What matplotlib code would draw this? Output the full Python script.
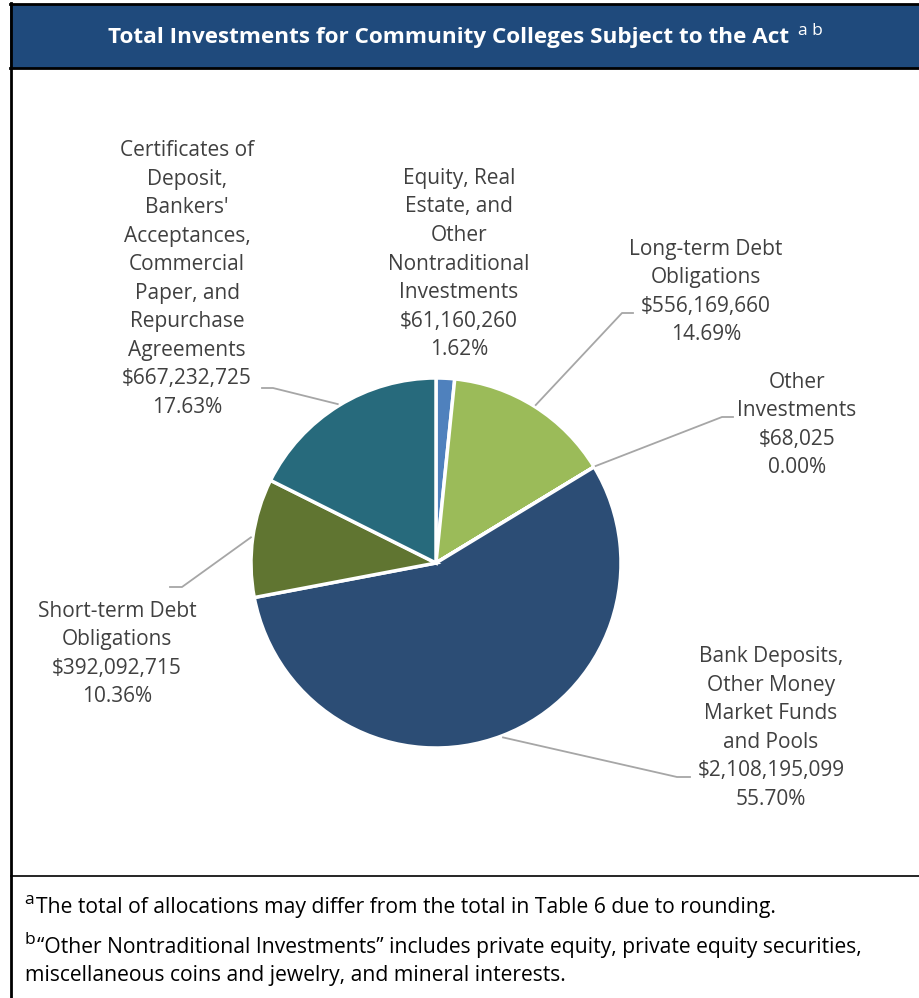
import matplotlib
matplotlib.use("Agg")
import matplotlib.pyplot as plt
from matplotlib.patches import Rectangle
from matplotlib.lines import Line2D
import numpy as np

plt.rcParams['font.family'] = ['Open Sans', 'DejaVu Sans']

# ---- data ----
categories = [
    "Equity, Real\nEstate, and\nOther\nNontraditional\nInvestments",
    "Long-term Debt\nObligations",
    "Other\nInvestments",
    "Bank Deposits,\nOther Money\nMarket Funds\nand Pools",
    "Short-term Debt\nObligations",
    "Certificates of\nDeposit,\nBankers'\nAcceptances,\nCommercial\nPaper, and\nRepurchase\nAgreements",
]
values = [61160260, 556169660, 68025, 2108195099, 392092715, 667232725]
colors = ["#4f81bd", "#9bbb59", "#8064a2", "#2c4d75", "#607531", "#276a7c"]

title = "Total Investments for Community Colleges Subject to the Act"
footnote_a = "The total of allocations may differ from the total in Table 6 due to rounding."
footnote_b1 = "\u201cOther Nontraditional Investments\u201d includes private equity, private equity securities,"
footnote_b2 = "miscellaneous coins and jewelry, and mineral interests."

# ---- layout (pixels) ----
W, H = 919, 998
CX, CY, R = 436, 563, 185

label_pos = [(459, 264), (706, 292), (797, 425), (771, 728), (117, 654), (187, 279)]
elbow_pos = [None, (622, 313), (722, 417), (677, 777), (182, 587), (273, 388)]
end_pos = [None, (633, 313), (733, 417), (690, 777), (170, 587), (262, 388)]

fig = plt.figure(figsize=(W / 100, H / 100), dpi=100)
ax = fig.add_axes([0, 0, 1, 1])
ax.axis('off')


def P(px, py):
    return ((px - CX) / R, (CY - py) / R)


# frame
ax.add_patch(Rectangle(P(10, 68), (W - 10) / R, 64 / R, facecolor="#1f4a7c",
                       edgecolor="none", zorder=1))
ax.add_line(Line2D(*zip(P(10, 4), P(W, 4)), color="black", lw=2, zorder=2))
ax.add_line(Line2D(*zip(P(10, 68), P(W, 68)), color="black", lw=2, zorder=2))
ax.add_line(Line2D(*zip(P(11, 3), P(11, H)), color="black", lw=2, zorder=2))
ax.add_line(Line2D(*zip(P(11, 876), P(W, 876)), color="black", lw=1.2, zorder=2))

ax.text(*P(449, 38), title, color="white", fontsize=16.2, fontweight="bold",
        ha="center", va="center", zorder=3)
ax.text(*P(798, 31), "a b", color="white", fontsize=12.5, ha="left", va="center", zorder=3)

# pie
total = sum(values)
wedges, _ = ax.pie(values, colors=colors, startangle=90, counterclock=False,
                   radius=1, center=(0, 0),
                   wedgeprops=dict(edgecolor="white", linewidth=2.5))
ax.set_xlim(-CX / R, (W - CX) / R)
ax.set_ylim(-(H - CY) / R, CY / R)
ax.set_aspect('equal')

txt_color = "#404040"
for i, (cat, v) in enumerate(zip(categories, values)):
    pct = v / total * 100
    label = f"{cat}\n${v:,.0f}\n{pct:.2f}%"
    lx, ly = P(*label_pos[i])
    ax.text(lx, ly, label, ha="center", va="center", fontsize=15,
            color=txt_color, linespacing=1.47, zorder=4)
    if elbow_pos[i] is not None:
        w = wedges[i]
        if v / total < 0.001:
            ang = np.deg2rad(w.theta1)
        else:
            ang = np.deg2rad((w.theta1 + w.theta2) / 2)
        ex, ey = 1.01 * np.cos(ang), 1.01 * np.sin(ang)
        bx, by = P(*elbow_pos[i])
        fx, fy = P(*end_pos[i])
        ax.add_line(Line2D([ex, bx, fx], [ey, by, fy], color="#a6a6a6", lw=1.3, zorder=3))

# footnotes
ax.text(*P(24, 900), "a", fontsize=12.5, color="black", ha="left", va="center")
ax.text(*P(36, 908), footnote_a, fontsize=15.2, color="black", ha="left", va="center")
ax.text(*P(24, 940), "b", fontsize=12.5, color="black", ha="left", va="center")
ax.text(*P(37, 947), footnote_b1, fontsize=15.2, color="black", ha="left", va="center")
ax.text(*P(25, 976), footnote_b2, fontsize=15.2, color="black", ha="left", va="center")

fig.savefig("out.png", dpi=100)
